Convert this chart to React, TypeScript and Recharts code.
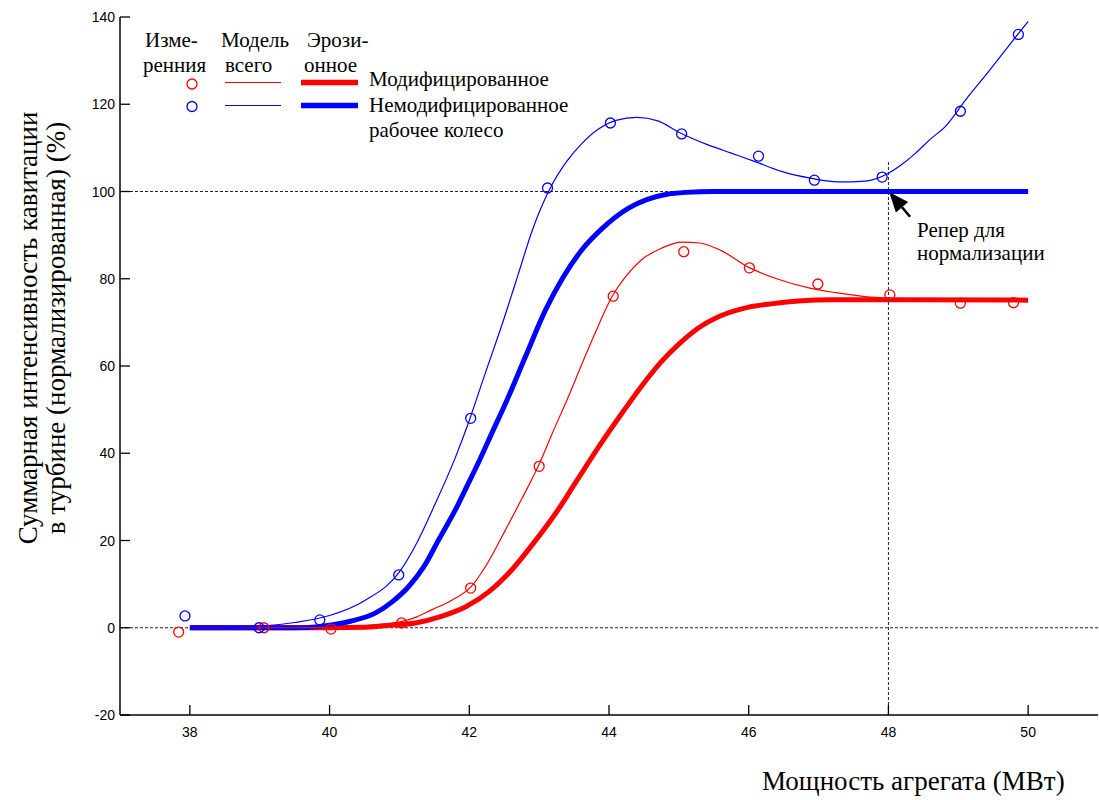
import React from "react";
import { ComposedChart, Line, Scatter, XAxis, YAxis, ReferenceLine } from "recharts";

// измерения (кружки)
const measuredMod = [
  { x: 37.84, y: -1 }, { x: 39.06, y: 0 }, { x: 40.02, y: -0.3 }, { x: 41.03, y: 1.1 },
  { x: 42.02, y: 9.1 }, { x: 43.0, y: 37 }, { x: 44.06, y: 76 }, { x: 45.07, y: 86.2 },
  { x: 46.01, y: 82.5 }, { x: 46.99, y: 78.8 }, { x: 48.02, y: 76.3 }, { x: 49.03, y: 74.4 },
  { x: 49.79, y: 74.5 },
];
const measuredUnmod = [
  { x: 37.93, y: 2.7 }, { x: 38.99, y: 0 }, { x: 39.86, y: 1.8 }, { x: 40.99, y: 12.1 },
  { x: 42.02, y: 48 }, { x: 43.12, y: 100.8 }, { x: 44.02, y: 115.7 }, { x: 45.04, y: 113.2 },
  { x: 46.14, y: 108.1 }, { x: 46.94, y: 102.6 }, { x: 47.91, y: 103.3 }, { x: 49.03, y: 118.4 },
  { x: 49.86, y: 136 },
];

// модель всего (тонкие линии)
const totalMod = [
  { x: 38, y: 0 }, { x: 39, y: 0 }, { x: 39.5, y: 0 }, { x: 40, y: 0.1 }, { x: 40.27, y: 0.3 },
  { x: 40.7, y: 0.8 }, { x: 41.03, y: 1.4 }, { x: 41.25, y: 2.5 }, { x: 41.46, y: 4.1 },
  { x: 41.75, y: 6.3 }, { x: 42.02, y: 9.3 }, { x: 42.25, y: 14.5 }, { x: 42.52, y: 22.5 },
  { x: 42.75, y: 29.5 }, { x: 43.0, y: 37.5 }, { x: 43.2, y: 45 }, { x: 43.42, y: 53 },
  { x: 43.6, y: 60 }, { x: 43.8, y: 67.5 }, { x: 44.04, y: 75.8 }, { x: 44.25, y: 80.7 },
  { x: 44.47, y: 84.4 }, { x: 44.75, y: 87 }, { x: 45.04, y: 88.4 }, { x: 45.3, y: 88.2 },
  { x: 45.6, y: 86.5 }, { x: 46.0, y: 82.6 }, { x: 46.4, y: 80 }, { x: 46.86, y: 77.9 },
  { x: 47.25, y: 76.8 }, { x: 47.67, y: 75.9 }, { x: 48.0, y: 75.5 }, { x: 48.5, y: 75.2 },
  { x: 49, y: 75.1 }, { x: 50, y: 75 },
];
const totalUnmod = [
  { x: 38, y: 0 }, { x: 38.5, y: 0 }, { x: 39, y: 0.3 }, { x: 39.5, y: 1.2 }, { x: 40, y: 2.8 },
  { x: 40.5, y: 6.2 }, { x: 41, y: 12.8 }, { x: 41.25, y: 19.5 }, { x: 41.5, y: 28 },
  { x: 41.8, y: 39 }, { x: 42, y: 47.5 }, { x: 42.2, y: 57 }, { x: 42.5, y: 71 },
  { x: 42.7, y: 81 }, { x: 42.9, y: 91 }, { x: 43.15, y: 100.5 }, { x: 43.4, y: 107 },
  { x: 43.6, y: 110.8 }, { x: 43.85, y: 114.3 }, { x: 44.1, y: 116.3 }, { x: 44.4, y: 117 },
  { x: 44.7, y: 116.2 }, { x: 45, y: 113.6 }, { x: 45.4, y: 110.8 }, { x: 45.75, y: 108.8 },
  { x: 46.1, y: 106.8 }, { x: 46.47, y: 104.6 }, { x: 46.9, y: 103 }, { x: 47.28, y: 102.2 },
  { x: 47.67, y: 102.4 }, { x: 48, y: 104.2 }, { x: 48.2, y: 106.3 }, { x: 48.39, y: 108.8 },
  { x: 48.6, y: 112 }, { x: 48.82, y: 115 }, { x: 49.1, y: 120.9 }, { x: 49.45, y: 127.8 },
  { x: 49.82, y: 135.4 }, { x: 50, y: 139 },
];

// эрозионное (толстые линии)
const erosionMod = [
  { x: 38, y: 0 }, { x: 39, y: 0 }, { x: 40, y: 0 }, { x: 40.52, y: 0.1 }, { x: 40.9, y: 0.6 },
  { x: 41.23, y: 1.1 }, { x: 41.6, y: 2.6 }, { x: 41.95, y: 4.8 }, { x: 42.3, y: 8.5 },
  { x: 42.61, y: 13.3 }, { x: 42.9, y: 19 }, { x: 43.24, y: 26.3 }, { x: 43.55, y: 34 },
  { x: 43.85, y: 41.4 }, { x: 44.2, y: 49.5 }, { x: 44.52, y: 56.5 }, { x: 44.75, y: 61 },
  { x: 45, y: 65 }, { x: 45.28, y: 68.7 }, { x: 45.6, y: 71.5 }, { x: 46, y: 73.5 },
  { x: 46.35, y: 74.3 }, { x: 46.71, y: 74.9 }, { x: 47.2, y: 75.2 }, { x: 48, y: 75.2 },
  { x: 50, y: 75.1 },
];
const erosionUnmod = [
  { x: 38, y: 0 }, { x: 39, y: 0 }, { x: 39.5, y: 0 }, { x: 39.8, y: 0.2 }, { x: 40, y: 0.6 },
  { x: 40.3, y: 1.5 }, { x: 40.66, y: 3.4 }, { x: 40.9, y: 6 }, { x: 41.13, y: 9.4 },
  { x: 41.35, y: 14 }, { x: 41.56, y: 20.1 }, { x: 41.8, y: 27 }, { x: 41.99, y: 33.2 },
  { x: 42.15, y: 38.5 }, { x: 42.32, y: 44.5 }, { x: 42.54, y: 52.2 }, { x: 42.8, y: 62 },
  { x: 43.09, y: 72.8 }, { x: 43.35, y: 80.5 }, { x: 43.61, y: 86.6 }, { x: 43.9, y: 91.5 },
  { x: 44.28, y: 96.2 }, { x: 44.55, y: 98.2 }, { x: 44.81, y: 99.3 }, { x: 45.1, y: 99.8 },
  { x: 45.5, y: 100 }, { x: 46, y: 100 }, { x: 50, y: 100 },
];

const xTicks = [38, 40, 42, 44, 46, 48, 50];
const yTicks = [-20, 0, 20, 40, 60, 80, 100, 120, 140];

const RED = "#ff0000";
const BLUE = "#0000ff";
const SERIF = "Liberation Serif, Times New Roman, Times, serif";
const SANS = "Liberation Sans, Arial, sans-serif";

const BottomTick = ({ x, y, payload }: any) => (
  <g>
    <line x1={x} y1={y} x2={x} y2={y - 10} stroke="#000" strokeWidth={1.3} />
    <text x={x} y={y + 22} textAnchor="middle" style={{ fontFamily: SANS, fontSize: 14 }} fill="#000">
      {payload.value}
    </text>
  </g>
);
const TopTick = ({ x, y }: any) => (
  <line x1={x} y1={y} x2={x} y2={y + 9} stroke="#000" strokeWidth={1.3} />
);
const LeftTick = ({ x, y, payload }: any) => (
  <g>
    <line x1={x} y1={y} x2={x + 10} y2={y} stroke="#000" strokeWidth={1.3} />
    <text x={x - 5} y={y + 5} textAnchor="end" style={{ fontFamily: SANS, fontSize: 14 }} fill="#000">
      {payload.value}
    </text>
  </g>
);
const RightTick = ({ x, y }: any) => (
  <line x1={x} y1={y} x2={x - 9} y2={y} stroke="#000" strokeWidth={1.3} />
);

const hollow = (color: string) => (p: any) =>
  <circle cx={p.cx} cy={p.cy} r={5} fill="none" stroke={color} strokeWidth={1.3} />;

// стрелка "Репер для нормализации"
const ArrowShape = (p: any) => {
  const { x1, y1, x2, y2 } = p;
  const dx = x2 - x1;
  const dy = y2 - y1;
  const len = Math.sqrt(dx * dx + dy * dy) || 1;
  const ux = dx / len;
  const uy = dy / len;
  const hl = 20;
  const hw = 8;
  const bx = x2 - ux * hl;
  const by = y2 - uy * hl;
  return (
    <g>
      <line x1={x1} y1={y1} x2={bx} y2={by} stroke="#000" strokeWidth={2.5} />
      <polygon
        points={`${x2},${y2} ${bx - uy * hw},${by + ux * hw} ${bx + uy * hw},${by - ux * hw}`}
        fill="#000"
      />
    </g>
  );
};

const serif21 = { fontFamily: SERIF, fontSize: 21 };
const serif27 = { fontFamily: SERIF, fontSize: 27 };

const Overlay = () => (
  <svg width={1099} height={800} style={{ position: "absolute", left: 0, top: 0, pointerEvents: "none" }}>
    <g fill="#000" style={serif21}>
      <text x={145} y={47}>Изме-</text>
      <text x={143} y={72}>ренния</text>
      <text x={221} y={47}>Модель</text>
      <text x={225} y={72}>всего</text>
      <text x={307} y={47}>Эрози-</text>
      <text x={304} y={72}>онное</text>
      <text x={369} y={86}>Модифицированное</text>
      <text x={369} y={112}>Немодифицированное</text>
      <text x={369} y={137}>рабочее колесо</text>
      <text x={917} y={237}>Репер для</text>
      <text x={917} y={260}>нормализации</text>
    </g>
    <circle cx={192} cy={84} r={5} fill="none" stroke={RED} strokeWidth={1.3} />
    <circle cx={192} cy={106.5} r={5} fill="none" stroke={BLUE} strokeWidth={1.3} />
    <line x1={225} y1={82.5} x2={281} y2={82.5} stroke={RED} strokeWidth={1.2} />
    <line x1={225} y1={105.5} x2={281} y2={105.5} stroke={BLUE} strokeWidth={1.2} />
    <line x1={301} y1={82.5} x2={358} y2={82.5} stroke={RED} strokeWidth={5.5} />
    <line x1={301} y1={105.5} x2={358} y2={105.5} stroke={BLUE} strokeWidth={5.5} />
    <text x={762} y={790} fill="#000" style={serif27}>Мощность агрегата (МВт)</text>
    <g fill="#000" textAnchor="middle" style={serif27}>
      <text transform="translate(37,328) rotate(-90)">Суммарная интенсивность кавитации</text>
      <text transform="translate(65,328) rotate(-90)">в турбине (нормализированная) (%)</text>
    </g>
  </svg>
);

export default function App() {
  return (
    <div style={{ position: "fixed", left: 0, top: 0, width: 1099, height: 800, overflow: "hidden", background: "#fff" }}>
      <ComposedChart width={1110} height={800} margin={{ top: 17, right: 12, bottom: 55, left: 60 }}>
        <XAxis
          dataKey="x"
          type="number"
          domain={[37, 51]}
          ticks={xTicks}
          allowDataOverflow
          height={30}
          tickSize={0}
          tickMargin={0}
          tickLine={false}
          tick={BottomTick}
          axisLine={{ stroke: "#000", strokeWidth: 1.5 }}
        />
        <XAxis
          xAxisId="top"
          orientation="top"
          dataKey="x"
          type="number"
          domain={[37, 51]}
          ticks={xTicks}
          allowDataOverflow
          height={0}
          tickSize={0}
          tickMargin={0}
          tickLine={false}
          tick={TopTick}
          axisLine={{ stroke: "#000", strokeWidth: 1.5 }}
        />
        <YAxis
          type="number"
          domain={[-20, 140]}
          ticks={yTicks}
          allowDataOverflow
          width={60}
          tickSize={0}
          tickMargin={0}
          tickLine={false}
          tick={LeftTick}
          axisLine={{ stroke: "#000", strokeWidth: 1.5 }}
        />
        <YAxis
          yAxisId="right"
          orientation="right"
          type="number"
          domain={[-20, 140]}
          ticks={yTicks}
          allowDataOverflow
          width={0}
          tickSize={0}
          tickMargin={0}
          tickLine={false}
          tick={RightTick}
          axisLine={{ stroke: "#000", strokeWidth: 1.5 }}
        />
        <ReferenceLine y={0} stroke="#222" strokeDasharray="3 2" strokeWidth={1} />
        <ReferenceLine segment={[{ x: 37, y: 100 }, { x: 48, y: 100 }]} stroke="#222" strokeDasharray="3 2" strokeWidth={1} />
        <ReferenceLine segment={[{ x: 48, y: -20 }, { x: 48, y: 107 }]} stroke="#222" strokeDasharray="3 2" strokeWidth={1} />
        <Line data={erosionMod} dataKey="y" type="monotone" stroke={RED} strokeWidth={5} dot={false} isAnimationActive={false} />
        <Line data={erosionUnmod} dataKey="y" type="monotone" stroke={BLUE} strokeWidth={5} dot={false} isAnimationActive={false} />
        <Line data={totalMod} dataKey="y" type="monotone" stroke={RED} strokeWidth={1.2} dot={false} isAnimationActive={false} />
        <Line data={totalUnmod} dataKey="y" type="monotone" stroke={BLUE} strokeWidth={1.2} dot={false} isAnimationActive={false} />
        <Scatter data={measuredMod} dataKey="y" shape={hollow(RED)} isAnimationActive={false} />
        <Scatter data={measuredUnmod} dataKey="y" shape={hollow(BLUE)} isAnimationActive={false} />
        <ReferenceLine segment={[{ x: 48.31, y: 94.2 }, { x: 48.01, y: 99.9 }]} shape={ArrowShape} />
      </ComposedChart>
      <Overlay />
    </div>
  );
}
